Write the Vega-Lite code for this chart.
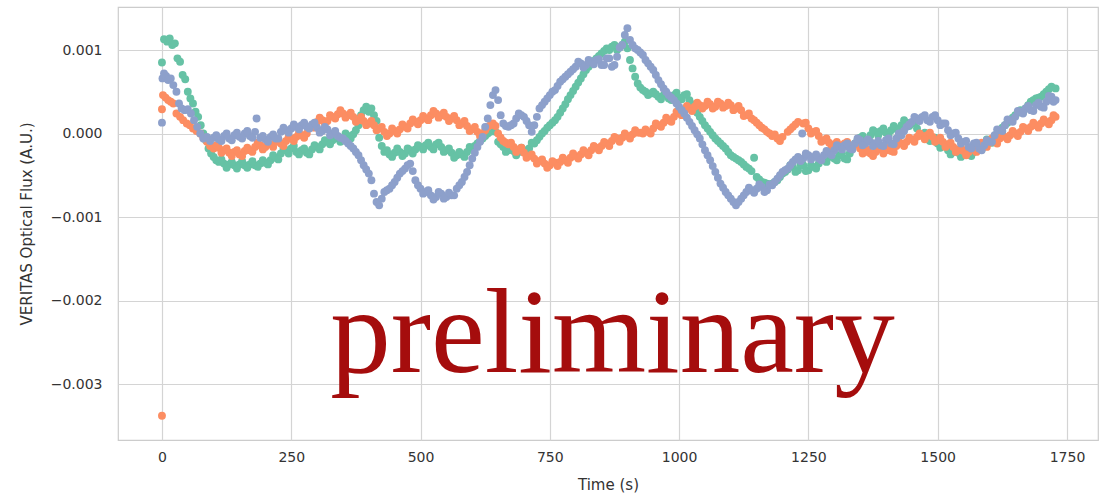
{
  "$schema": "https://vega.github.io/schema/vega-lite/v6.json",
  "width": 980,
  "height": 433,
  "autosize": {"type": "none"},
  "padding": {"left": 118, "top": 7, "right": 10, "bottom": 58},
  "background": "white",
  "config": {
    "view": {"stroke": "#cccccc", "strokeWidth": 1.2},
    "axis": {
      "domain": false,
      "ticks": false,
      "grid": true,
      "gridColor": "#d4d4d4",
      "gridWidth": 1.2,
      "labelFont": "DejaVu Sans",
      "labelFontSize": 14,
      "labelColor": "#333333",
      "titleFont": "DejaVu Sans",
      "titleFontSize": 15,
      "titleFontWeight": "normal",
      "titleColor": "#333333"
    }
  },
  "layer": [
    {
      "data": {
        "values": [
          {"s":"A","t":0,"f":0.00085},{"s":"A","t":4,"f":0.00113},{"s":"A","t":10,"f":0.00110},{"s":"A","t":15,"f":0.00114},{"s":"A","t":20,"f":0.00106},{"s":"A","t":25,"f":0.00108},{"s":"A","t":30,"f":0.00090},{"s":"A","t":35,"f":0.00086},{"s":"A","t":40,"f":0.00070},{"s":"A","t":45,"f":0.00065},{"s":"A","t":50,"f":0.00050},{"s":"A","t":55,"f":0.00042},{"s":"A","t":60,"f":0.00036},{"s":"A","t":65,"f":0.00026},{"s":"A","t":70,"f":0.00020},{"s":"A","t":75,"f":0.00010},{"s":"A","t":80,"f":0.0},{"s":"A","t":85,"f":-0.00008},{"s":"A","t":90,"f":-0.00018},{"s":"A","t":95,"f":-0.00024},{"s":"A","t":100,"f":-0.00028},{"s":"A","t":105,"f":-0.00032},{"s":"A","t":110,"f":-0.00034},{"s":"A","t":120,"f":-0.00036},{"s":"A","t":130,"f":-0.00037},{"s":"A","t":140,"f":-0.00038},{"s":"A","t":150,"f":-0.00037},{"s":"A","t":160,"f":-0.00038},{"s":"A","t":170,"f":-0.00037},{"s":"A","t":180,"f":-0.00038},{"s":"A","t":190,"f":-0.00036},{"s":"A","t":200,"f":-0.00035},{"s":"A","t":210,"f":-0.00032},{"s":"A","t":220,"f":-0.00029},{"s":"A","t":230,"f":-0.00024},{"s":"A","t":240,"f":-0.00020},{"s":"A","t":250,"f":-0.00018},{"s":"A","t":260,"f":-0.00022},{"s":"A","t":270,"f":-0.00020},{"s":"A","t":280,"f":-0.00023},{"s":"A","t":290,"f":-0.00019},{"s":"A","t":300,"f":-0.00016},{"s":"A","t":310,"f":-0.00013},{"s":"A","t":320,"f":-0.00010},{"s":"A","t":330,"f":-0.00008},{"s":"A","t":340,"f":-0.00006},{"s":"A","t":350,"f":-0.00005},{"s":"A","t":360,"f":-0.00003},{"s":"A","t":370,"f":-0.00001},{"s":"A","t":380,"f":0.00010},{"s":"A","t":385,"f":0.00022},{"s":"A","t":390,"f":0.00028},{"s":"A","t":395,"f":0.00032},{"s":"A","t":400,"f":0.00026},{"s":"A","t":405,"f":0.00030},{"s":"A","t":410,"f":0.00022},{"s":"A","t":415,"f":0.00015},{"s":"A","t":420,"f":-0.00005},{"s":"A","t":425,"f":-0.00015},{"s":"A","t":430,"f":-0.00022},{"s":"A","t":440,"f":-0.00025},{"s":"A","t":450,"f":-0.00023},{"s":"A","t":460,"f":-0.00022},{"s":"A","t":470,"f":-0.00024},{"s":"A","t":480,"f":-0.00020},{"s":"A","t":490,"f":-0.00019},{"s":"A","t":500,"f":-0.00016},{"s":"A","t":510,"f":-0.00014},{"s":"A","t":520,"f":-0.00016},{"s":"A","t":530,"f":-0.00013},{"s":"A","t":540,"f":-0.00016},{"s":"A","t":550,"f":-0.00020},{"s":"A","t":560,"f":-0.00023},{"s":"A","t":570,"f":-0.00026},{"s":"A","t":580,"f":-0.00025},{"s":"A","t":590,"f":-0.00022},{"s":"A","t":600,"f":-0.00018},{"s":"A","t":610,"f":-0.00012},{"s":"A","t":620,"f":-0.00006},{"s":"A","t":630,"f":0.0},{"s":"A","t":640,"f":0.00004},{"s":"A","t":645,"f":0.00002},{"s":"A","t":650,"f":-0.00010},{"s":"A","t":660,"f":-0.00016},{"s":"A","t":670,"f":-0.00020},{"s":"A","t":680,"f":-0.00021},{"s":"A","t":690,"f":-0.00022},{"s":"A","t":700,"f":-0.00020},{"s":"A","t":710,"f":-0.00018},{"s":"A","t":720,"f":-0.00012},{"s":"A","t":730,"f":-0.00004},{"s":"A","t":740,"f":0.00003},{"s":"A","t":750,"f":0.00010},{"s":"A","t":760,"f":0.00016},{"s":"A","t":770,"f":0.00025},{"s":"A","t":780,"f":0.00035},{"s":"A","t":790,"f":0.00046},{"s":"A","t":800,"f":0.00056},{"s":"A","t":810,"f":0.00066},{"s":"A","t":820,"f":0.00076},{"s":"A","t":830,"f":0.00084},{"s":"A","t":840,"f":0.00090},{"s":"A","t":850,"f":0.00096},{"s":"A","t":860,"f":0.00102},{"s":"A","t":870,"f":0.00104},{"s":"A","t":880,"f":0.00100},{"s":"A","t":890,"f":0.00106},{"s":"A","t":895,"f":0.00110},{"s":"A","t":900,"f":0.00102},{"s":"A","t":905,"f":0.00088},{"s":"A","t":910,"f":0.00078},{"s":"A","t":915,"f":0.00068},{"s":"A","t":920,"f":0.00060},{"s":"A","t":930,"f":0.00052},{"s":"A","t":940,"f":0.00046},{"s":"A","t":950,"f":0.00050},{"s":"A","t":960,"f":0.00044},{"s":"A","t":970,"f":0.00046},{"s":"A","t":980,"f":0.00042},{"s":"A","t":990,"f":0.00046},{"s":"A","t":1000,"f":0.00043},{"s":"A","t":1010,"f":0.00046},{"s":"A","t":1020,"f":0.00040},{"s":"A","t":1030,"f":0.00030},{"s":"A","t":1040,"f":0.00020},{"s":"A","t":1050,"f":0.00010},{"s":"A","t":1060,"f":0.00002},{"s":"A","t":1070,"f":-0.00006},{"s":"A","t":1080,"f":-0.00012},{"s":"A","t":1090,"f":-0.00018},{"s":"A","t":1100,"f":-0.00026},{"s":"A","t":1110,"f":-0.00030},{"s":"A","t":1120,"f":-0.00034},{"s":"A","t":1130,"f":-0.00040},{"s":"A","t":1140,"f":-0.00045},{"s":"A","t":1145,"f":-0.00029},{"s":"A","t":1150,"f":-0.00052},{"s":"A","t":1160,"f":-0.00058},{"s":"A","t":1170,"f":-0.00060},{"s":"A","t":1180,"f":-0.00060},{"s":"A","t":1190,"f":-0.00056},{"s":"A","t":1200,"f":-0.00048},{"s":"A","t":1210,"f":-0.00043},{"s":"A","t":1220,"f":-0.00040},{"s":"A","t":1230,"f":-0.00044},{"s":"A","t":1240,"f":-0.00038},{"s":"A","t":1250,"f":-0.00044},{"s":"A","t":1260,"f":-0.00040},{"s":"A","t":1270,"f":-0.00036},{"s":"A","t":1280,"f":-0.00032},{"s":"A","t":1290,"f":-0.00028},{"s":"A","t":1300,"f":-0.00030},{"s":"A","t":1310,"f":-0.00026},{"s":"A","t":1320,"f":-0.00030},{"s":"A","t":1330,"f":-0.00024},{"s":"A","t":1340,"f":-0.00012},{"s":"A","t":1350,"f":-0.00005},{"s":"A","t":1360,"f":-0.00008},{"s":"A","t":1370,"f":-0.00002},{"s":"A","t":1380,"f":0.00002},{"s":"A","t":1390,"f":0.00003},{"s":"A","t":1400,"f":0.00001},{"s":"A","t":1410,"f":0.00004},{"s":"A","t":1420,"f":0.00006},{"s":"A","t":1430,"f":0.00010},{"s":"A","t":1440,"f":0.00013},{"s":"A","t":1450,"f":0.00012},{"s":"A","t":1460,"f":0.00006},{"s":"A","t":1470,"f":-0.00002},{"s":"A","t":1480,"f":-0.00004},{"s":"A","t":1490,"f":-0.00006},{"s":"A","t":1500,"f":-0.00012},{"s":"A","t":1510,"f":-0.00014},{"s":"A","t":1520,"f":-0.00020},{"s":"A","t":1530,"f":-0.00022},{"s":"A","t":1540,"f":-0.00023},{"s":"A","t":1550,"f":-0.00025},{"s":"A","t":1560,"f":-0.00023},{"s":"A","t":1570,"f":-0.00022},{"s":"A","t":1580,"f":-0.00018},{"s":"A","t":1590,"f":-0.00012},{"s":"A","t":1600,"f":-0.00010},{"s":"A","t":1610,"f":-0.00004},{"s":"A","t":1620,"f":0.00004},{"s":"A","t":1630,"f":0.00010},{"s":"A","t":1640,"f":0.00016},{"s":"A","t":1650,"f":0.00022},{"s":"A","t":1660,"f":0.00028},{"s":"A","t":1670,"f":0.00030},{"s":"A","t":1680,"f":0.00038},{"s":"A","t":1690,"f":0.00042},{"s":"A","t":1700,"f":0.00044},{"s":"A","t":1710,"f":0.00050},{"s":"A","t":1720,"f":0.00056},{"s":"A","t":1728,"f":0.00054},
          {"s":"A","t":375,"f":0.00004},{"s":"A","t":605,"f":-0.00015},{"s":"A","t":615,"f":-0.00009},{"s":"A","t":625,"f":-0.00003},{"s":"A","t":635,"f":0.00002},{"s":"A","t":655,"f":-0.00013},{"s":"A","t":725,"f":-0.00008},{"s":"A","t":735,"f":0.0},{"s":"A","t":745,"f":0.00007},{"s":"A","t":755,"f":0.00013},{"s":"A","t":765,"f":0.00020},{"s":"A","t":775,"f":0.00030},{"s":"A","t":785,"f":0.00041},{"s":"A","t":795,"f":0.00051},{"s":"A","t":805,"f":0.00061},{"s":"A","t":815,"f":0.00071},{"s":"A","t":825,"f":0.00080},{"s":"A","t":835,"f":0.00087},{"s":"A","t":845,"f":0.00093},{"s":"A","t":855,"f":0.00099},{"s":"A","t":865,"f":0.00100},{"s":"A","t":875,"f":0.00106},{"s":"A","t":885,"f":0.00103},{"s":"A","t":925,"f":0.00055},{"s":"A","t":935,"f":0.00050},{"s":"A","t":945,"f":0.00048},{"s":"A","t":955,"f":0.00047},{"s":"A","t":1025,"f":0.00035},{"s":"A","t":1035,"f":0.00025},{"s":"A","t":1045,"f":0.00015},{"s":"A","t":1055,"f":0.00006},{"s":"A","t":1065,"f":-0.00002},{"s":"A","t":1075,"f":-0.00009},{"s":"A","t":1085,"f":-0.00015},{"s":"A","t":1095,"f":-0.00022},{"s":"A","t":1105,"f":-0.00028},{"s":"A","t":1115,"f":-0.00032},{"s":"A","t":1125,"f":-0.00037},{"s":"A","t":1135,"f":-0.00042},{"s":"A","t":1155,"f":-0.00055},{"s":"A","t":1165,"f":-0.00059},{"s":"A","t":1175,"f":-0.00061},{"s":"A","t":1185,"f":-0.00058},{"s":"A","t":1195,"f":-0.00052},{"s":"A","t":1205,"f":-0.00046},{"s":"A","t":1335,"f":-0.00018},{"s":"A","t":1345,"f":-0.00008},{"s":"A","t":1615,"f":0.0},{"s":"A","t":1625,"f":0.00007},{"s":"A","t":1635,"f":0.00013},{"s":"A","t":1645,"f":0.00019},{"s":"A","t":1655,"f":0.00025},{"s":"A","t":1675,"f":0.00034},{"s":"A","t":1685,"f":0.00040},{"s":"A","t":1695,"f":0.00043},{"s":"A","t":1705,"f":0.00047},{"s":"A","t":1715,"f":0.00053},
          {"s":"A","t":115,"f":-0.00031},{"s":"A","t":125,"f":-0.00041},{"s":"A","t":135,"f":-0.00034},{"s":"A","t":145,"f":-0.00042},{"s":"A","t":155,"f":-0.00033},{"s":"A","t":165,"f":-0.00041},{"s":"A","t":175,"f":-0.00033},{"s":"A","t":185,"f":-0.00040},{"s":"A","t":195,"f":-0.00032},{"s":"A","t":205,"f":-0.00037},{"s":"A","t":215,"f":-0.00026},{"s":"A","t":225,"f":-0.00031},{"s":"A","t":235,"f":-0.00018},{"s":"A","t":245,"f":-0.00024},{"s":"A","t":255,"f":-0.00015},{"s":"A","t":265,"f":-0.00025},{"s":"A","t":275,"f":-0.00018},{"s":"A","t":285,"f":-0.00025},{"s":"A","t":295,"f":-0.00014},{"s":"A","t":305,"f":-0.00019},{"s":"A","t":315,"f":-0.00008},{"s":"A","t":325,"f":-0.00013},{"s":"A","t":335,"f":-0.00003},{"s":"A","t":345,"f":-0.00010},{"s":"A","t":355,"f":0.0},{"s":"A","t":365,"f":-0.00006},{"s":"A","t":435,"f":-0.00020},{"s":"A","t":445,"f":-0.00028},{"s":"A","t":455,"f":-0.00018},{"s":"A","t":465,"f":-0.00027},{"s":"A","t":475,"f":-0.00018},{"s":"A","t":485,"f":-0.00024},{"s":"A","t":495,"f":-0.00014},{"s":"A","t":505,"f":-0.00019},{"s":"A","t":515,"f":-0.00011},{"s":"A","t":525,"f":-0.00019},{"s":"A","t":535,"f":-0.00011},{"s":"A","t":545,"f":-0.00022},{"s":"A","t":555,"f":-0.00018},{"s":"A","t":565,"f":-0.00029},{"s":"A","t":575,"f":-0.00022},{"s":"A","t":585,"f":-0.00028},{"s":"A","t":595,"f":-0.00016},{"s":"A","t":665,"f":-0.00022},{"s":"A","t":675,"f":-0.00017},{"s":"A","t":685,"f":-0.00026},{"s":"A","t":695,"f":-0.00017},{"s":"A","t":705,"f":-0.00023},{"s":"A","t":715,"f":-0.00011},{"s":"A","t":965,"f":0.00041},{"s":"A","t":975,"f":0.00048},{"s":"A","t":985,"f":0.00040},{"s":"A","t":995,"f":0.00049},{"s":"A","t":1005,"f":0.00041},{"s":"A","t":1015,"f":0.00047},{"s":"A","t":1215,"f":-0.00038},{"s":"A","t":1225,"f":-0.00046},{"s":"A","t":1235,"f":-0.00037},{"s":"A","t":1245,"f":-0.00045},{"s":"A","t":1255,"f":-0.00038},{"s":"A","t":1265,"f":-0.00042},{"s":"A","t":1275,"f":-0.00030},{"s":"A","t":1285,"f":-0.00034},{"s":"A","t":1295,"f":-0.00025},{"s":"A","t":1305,"f":-0.00032},{"s":"A","t":1315,"f":-0.00024},{"s":"A","t":1325,"f":-0.00031},{"s":"A","t":1355,"f":-0.00003},{"s":"A","t":1365,"f":-0.00009},{"s":"A","t":1375,"f":0.00004},{"s":"A","t":1385,"f":-0.00002},{"s":"A","t":1395,"f":0.00006},{"s":"A","t":1405,"f":-0.00002},{"s":"A","t":1415,"f":0.00009},{"s":"A","t":1425,"f":0.00004},{"s":"A","t":1435,"f":0.00016},{"s":"A","t":1445,"f":0.00009},{"s":"A","t":1455,"f":0.00013},{"s":"A","t":1465,"f":-0.00002},{"s":"A","t":1475,"f":0.00001},{"s":"A","t":1485,"f":-0.00009},{"s":"A","t":1495,"f":-0.00005},{"s":"A","t":1505,"f":-0.00017},{"s":"A","t":1515,"f":-0.00013},{"s":"A","t":1525,"f":-0.00025},{"s":"A","t":1535,"f":-0.00019},{"s":"A","t":1545,"f":-0.00028},{"s":"A","t":1555,"f":-0.00020},{"s":"A","t":1565,"f":-0.00027},{"s":"A","t":1575,"f":-0.00016},{"s":"A","t":1585,"f":-0.00019},{"s":"A","t":1595,"f":-0.00007},{"s":"A","t":1605,"f":-0.00011},{"s":"A","t":1665,"f":0.00025},

          {"s":"B","t":0,"f":-0.00338},{"s":"B","t":0,"f":0.00029},{"s":"B","t":2,"f":0.00046},{"s":"B","t":7,"f":0.00043},{"s":"B","t":12,"f":0.00040},{"s":"B","t":17,"f":0.00038},{"s":"B","t":22,"f":0.00036},{"s":"B","t":28,"f":0.00024},{"s":"B","t":35,"f":0.00020},{"s":"B","t":41,"f":0.00016},{"s":"B","t":48,"f":0.00012},{"s":"B","t":54,"f":0.00010},{"s":"B","t":60,"f":0.00006},{"s":"B","t":67,"f":0.00003},{"s":"B","t":74,"f":0.0},{"s":"B","t":80,"f":-0.00005},{"s":"B","t":87,"f":-0.00010},{"s":"B","t":93,"f":-0.00015},{"s":"B","t":100,"f":-0.00018},{"s":"B","t":110,"f":-0.00017},{"s":"B","t":120,"f":-0.00020},{"s":"B","t":130,"f":-0.00023},{"s":"B","t":140,"f":-0.00022},{"s":"B","t":150,"f":-0.00025},{"s":"B","t":160,"f":-0.00021},{"s":"B","t":170,"f":-0.00020},{"s":"B","t":180,"f":-0.00016},{"s":"B","t":190,"f":-0.00014},{"s":"B","t":200,"f":-0.00016},{"s":"B","t":210,"f":-0.00013},{"s":"B","t":220,"f":-0.00010},{"s":"B","t":230,"f":-0.00012},{"s":"B","t":240,"f":-0.00009},{"s":"B","t":250,"f":-0.00006},{"s":"B","t":260,"f":-0.00004},{"s":"B","t":270,"f":-0.00002},{"s":"B","t":280,"f":0.0},{"s":"B","t":290,"f":0.00008},{"s":"B","t":300,"f":0.00014},{"s":"B","t":310,"f":0.00016},{"s":"B","t":320,"f":0.00015},{"s":"B","t":330,"f":0.00020},{"s":"B","t":340,"f":0.00023},{"s":"B","t":350,"f":0.00024},{"s":"B","t":360,"f":0.00022},{"s":"B","t":370,"f":0.00020},{"s":"B","t":380,"f":0.00016},{"s":"B","t":390,"f":0.00015},{"s":"B","t":400,"f":0.00012},{"s":"B","t":410,"f":0.00010},{"s":"B","t":420,"f":0.00006},{"s":"B","t":430,"f":0.00002},{"s":"B","t":440,"f":0.0},{"s":"B","t":450,"f":0.00003},{"s":"B","t":460,"f":0.00005},{"s":"B","t":470,"f":0.00008},{"s":"B","t":480,"f":0.00012},{"s":"B","t":490,"f":0.00014},{"s":"B","t":500,"f":0.00016},{"s":"B","t":510,"f":0.00018},{"s":"B","t":520,"f":0.00022},{"s":"B","t":530,"f":0.00024},{"s":"B","t":540,"f":0.00022},{"s":"B","t":550,"f":0.00020},{"s":"B","t":560,"f":0.00018},{"s":"B","t":570,"f":0.00016},{"s":"B","t":580,"f":0.00012},{"s":"B","t":590,"f":0.00009},{"s":"B","t":600,"f":0.00005},{"s":"B","t":610,"f":0.00002},{"s":"B","t":620,"f":0.0},{"s":"B","t":630,"f":0.00008},{"s":"B","t":640,"f":0.00012},{"s":"B","t":645,"f":0.00009},{"s":"B","t":650,"f":0.0},{"s":"B","t":660,"f":-0.00009},{"s":"B","t":670,"f":-0.00013},{"s":"B","t":680,"f":-0.00016},{"s":"B","t":690,"f":-0.00019},{"s":"B","t":700,"f":-0.00023},{"s":"B","t":710,"f":-0.00027},{"s":"B","t":720,"f":-0.00030},{"s":"B","t":730,"f":-0.00033},{"s":"B","t":740,"f":-0.00036},{"s":"B","t":750,"f":-0.00038},{"s":"B","t":760,"f":-0.00035},{"s":"B","t":770,"f":-0.00034},{"s":"B","t":780,"f":-0.00032},{"s":"B","t":790,"f":-0.00029},{"s":"B","t":800,"f":-0.00027},{"s":"B","t":810,"f":-0.00025},{"s":"B","t":820,"f":-0.00023},{"s":"B","t":830,"f":-0.00020},{"s":"B","t":840,"f":-0.00017},{"s":"B","t":850,"f":-0.00015},{"s":"B","t":860,"f":-0.00012},{"s":"B","t":870,"f":-0.00009},{"s":"B","t":880,"f":-0.00006},{"s":"B","t":890,"f":-0.00005},{"s":"B","t":900,"f":-0.00003},{"s":"B","t":910,"f":-0.00001},{"s":"B","t":920,"f":0.00001},{"s":"B","t":930,"f":0.0},{"s":"B","t":940,"f":0.00002},{"s":"B","t":950,"f":0.00006},{"s":"B","t":960,"f":0.00010},{"s":"B","t":970,"f":0.00013},{"s":"B","t":980,"f":0.00016},{"s":"B","t":990,"f":0.00020},{"s":"B","t":1000,"f":0.00024},{"s":"B","t":1010,"f":0.00028},{"s":"B","t":1020,"f":0.00030},{"s":"B","t":1030,"f":0.00032},{"s":"B","t":1040,"f":0.00034},{"s":"B","t":1050,"f":0.00033},{"s":"B","t":1060,"f":0.00035},{"s":"B","t":1070,"f":0.00032},{"s":"B","t":1080,"f":0.00036},{"s":"B","t":1090,"f":0.00033},{"s":"B","t":1100,"f":0.00034},{"s":"B","t":1110,"f":0.00030},{"s":"B","t":1120,"f":0.00028},{"s":"B","t":1130,"f":0.00022},{"s":"B","t":1140,"f":0.00018},{"s":"B","t":1150,"f":0.00013},{"s":"B","t":1160,"f":0.00007},{"s":"B","t":1170,"f":0.00002},{"s":"B","t":1180,"f":-0.00003},{"s":"B","t":1190,"f":-0.00006},{"s":"B","t":1200,"f":-0.00004},{"s":"B","t":1210,"f":0.00002},{"s":"B","t":1220,"f":0.00008},{"s":"B","t":1230,"f":0.00014},{"s":"B","t":1240,"f":0.00012},{"s":"B","t":1250,"f":0.00006},{"s":"B","t":1260,"f":0.00002},{"s":"B","t":1270,"f":-0.00003},{"s":"B","t":1280,"f":-0.00008},{"s":"B","t":1290,"f":-0.00011},{"s":"B","t":1300,"f":-0.00013},{"s":"B","t":1310,"f":-0.00014},{"s":"B","t":1320,"f":-0.00012},{"s":"B","t":1330,"f":-0.00015},{"s":"B","t":1340,"f":-0.00013},{"s":"B","t":1350,"f":-0.00018},{"s":"B","t":1360,"f":-0.00022},{"s":"B","t":1370,"f":-0.00024},{"s":"B","t":1380,"f":-0.00022},{"s":"B","t":1390,"f":-0.00019},{"s":"B","t":1400,"f":-0.00020},{"s":"B","t":1410,"f":-0.00021},{"s":"B","t":1420,"f":-0.00015},{"s":"B","t":1430,"f":-0.00012},{"s":"B","t":1440,"f":-0.00010},{"s":"B","t":1450,"f":-0.00007},{"s":"B","t":1460,"f":-0.00004},{"s":"B","t":1470,"f":-0.00003},{"s":"B","t":1480,"f":-0.00002},{"s":"B","t":1490,"f":-0.00004},{"s":"B","t":1500,"f":-0.00008},{"s":"B","t":1510,"f":-0.00010},{"s":"B","t":1520,"f":-0.00013},{"s":"B","t":1530,"f":-0.00016},{"s":"B","t":1540,"f":-0.00020},{"s":"B","t":1550,"f":-0.00021},{"s":"B","t":1560,"f":-0.00022},{"s":"B","t":1570,"f":-0.00019},{"s":"B","t":1580,"f":-0.00016},{"s":"B","t":1590,"f":-0.00013},{"s":"B","t":1600,"f":-0.00011},{"s":"B","t":1610,"f":-0.00009},{"s":"B","t":1620,"f":-0.00006},{"s":"B","t":1630,"f":-0.00004},{"s":"B","t":1640,"f":-0.00002},{"s":"B","t":1650,"f":0.0},{"s":"B","t":1660,"f":0.00002},{"s":"B","t":1670,"f":0.00006},{"s":"B","t":1680,"f":0.00008},{"s":"B","t":1690,"f":0.00010},{"s":"B","t":1700,"f":0.00012},{"s":"B","t":1710,"f":0.00014},{"s":"B","t":1720,"f":0.00016},{"s":"B","t":1728,"f":0.00020},
          {"s":"B","t":625,"f":0.00004},{"s":"B","t":635,"f":0.00010},{"s":"B","t":655,"f":-0.00005},{"s":"B","t":665,"f":-0.00011},{"s":"B","t":1145,"f":0.00016},{"s":"B","t":1155,"f":0.00010},{"s":"B","t":1165,"f":0.00005},{"s":"B","t":1175,"f":0.0},{"s":"B","t":1215,"f":0.00005},{"s":"B","t":1225,"f":0.00011},
          {"s":"B","t":105,"f":-0.00014},{"s":"B","t":115,"f":-0.00023},{"s":"B","t":125,"f":-0.00018},{"s":"B","t":135,"f":-0.00027},{"s":"B","t":145,"f":-0.00020},{"s":"B","t":155,"f":-0.00027},{"s":"B","t":165,"f":-0.00017},{"s":"B","t":175,"f":-0.00022},{"s":"B","t":185,"f":-0.00011},{"s":"B","t":195,"f":-0.00019},{"s":"B","t":205,"f":-0.00011},{"s":"B","t":215,"f":-0.00016},{"s":"B","t":225,"f":-0.00007},{"s":"B","t":235,"f":-0.00015},{"s":"B","t":245,"f":-0.00004},{"s":"B","t":255,"f":-0.00009},{"s":"B","t":265,"f":0.00001},{"s":"B","t":275,"f":-0.00005},{"s":"B","t":285,"f":0.00008},{"s":"B","t":295,"f":0.00007},{"s":"B","t":305,"f":0.00019},{"s":"B","t":315,"f":0.00012},{"s":"B","t":325,"f":0.00022},{"s":"B","t":335,"f":0.00018},{"s":"B","t":345,"f":0.00028},{"s":"B","t":355,"f":0.00019},{"s":"B","t":365,"f":0.00025},{"s":"B","t":375,"f":0.00014},{"s":"B","t":385,"f":0.00020},{"s":"B","t":395,"f":0.00010},{"s":"B","t":405,"f":0.00015},{"s":"B","t":415,"f":0.00004},{"s":"B","t":425,"f":0.00008},{"s":"B","t":435,"f":-0.00003},{"s":"B","t":445,"f":0.00006},{"s":"B","t":455,"f":0.0},{"s":"B","t":465,"f":0.00011},{"s":"B","t":475,"f":0.00006},{"s":"B","t":485,"f":0.00017},{"s":"B","t":495,"f":0.00011},{"s":"B","t":505,"f":0.00021},{"s":"B","t":515,"f":0.00016},{"s":"B","t":525,"f":0.00027},{"s":"B","t":535,"f":0.00019},{"s":"B","t":545,"f":0.00025},{"s":"B","t":555,"f":0.00015},{"s":"B","t":565,"f":0.00021},{"s":"B","t":575,"f":0.00010},{"s":"B","t":585,"f":0.00015},{"s":"B","t":595,"f":0.00003},{"s":"B","t":605,"f":0.00008},{"s":"B","t":615,"f":-0.00003},{"s":"B","t":675,"f":-0.00011},{"s":"B","t":685,"f":-0.00022},{"s":"B","t":695,"f":-0.00017},{"s":"B","t":705,"f":-0.00029},{"s":"B","t":715,"f":-0.00025},{"s":"B","t":725,"f":-0.00036},{"s":"B","t":735,"f":-0.00031},{"s":"B","t":745,"f":-0.00041},{"s":"B","t":755,"f":-0.00033},{"s":"B","t":765,"f":-0.00039},{"s":"B","t":775,"f":-0.00029},{"s":"B","t":785,"f":-0.00035},{"s":"B","t":795,"f":-0.00024},{"s":"B","t":805,"f":-0.00030},{"s":"B","t":815,"f":-0.00020},{"s":"B","t":825,"f":-0.00026},{"s":"B","t":835,"f":-0.00015},{"s":"B","t":845,"f":-0.00020},{"s":"B","t":855,"f":-0.00010},{"s":"B","t":865,"f":-0.00015},{"s":"B","t":875,"f":-0.00004},{"s":"B","t":885,"f":-0.00010},{"s":"B","t":895,"f":0.0},{"s":"B","t":905,"f":-0.00006},{"s":"B","t":915,"f":0.00004},{"s":"B","t":925,"f":0.00001},{"s":"B","t":935,"f":0.00005},{"s":"B","t":945,"f":0.0},{"s":"B","t":955,"f":0.00012},{"s":"B","t":965,"f":0.00008},{"s":"B","t":975,"f":0.00019},{"s":"B","t":985,"f":0.00014},{"s":"B","t":995,"f":0.00026},{"s":"B","t":1005,"f":0.00022},{"s":"B","t":1015,"f":0.00033},{"s":"B","t":1025,"f":0.00027},{"s":"B","t":1035,"f":0.00037},{"s":"B","t":1045,"f":0.00030},{"s":"B","t":1055,"f":0.00038},{"s":"B","t":1065,"f":0.00030},{"s":"B","t":1075,"f":0.00038},{"s":"B","t":1085,"f":0.00031},{"s":"B","t":1095,"f":0.00037},{"s":"B","t":1105,"f":0.00028},{"s":"B","t":1115,"f":0.00033},{"s":"B","t":1125,"f":0.00021},{"s":"B","t":1135,"f":0.00024},{"s":"B","t":1185,"f":-0.00001},{"s":"B","t":1195,"f":-0.00009},{"s":"B","t":1245,"f":0.00013},{"s":"B","t":1255,"f":0.0},{"s":"B","t":1265,"f":0.00003},{"s":"B","t":1275,"f":-0.00010},{"s":"B","t":1285,"f":-0.00006},{"s":"B","t":1295,"f":-0.00016},{"s":"B","t":1305,"f":-0.00010},{"s":"B","t":1315,"f":-0.00017},{"s":"B","t":1325,"f":-0.00010},{"s":"B","t":1335,"f":-0.00018},{"s":"B","t":1345,"f":-0.00012},{"s":"B","t":1355,"f":-0.00024},{"s":"B","t":1365,"f":-0.00019},{"s":"B","t":1375,"f":-0.00027},{"s":"B","t":1385,"f":-0.00017},{"s":"B","t":1395,"f":-0.00024},{"s":"B","t":1405,"f":-0.00017},{"s":"B","t":1415,"f":-0.00022},{"s":"B","t":1425,"f":-0.00010},{"s":"B","t":1435,"f":-0.00015},{"s":"B","t":1445,"f":-0.00005},{"s":"B","t":1455,"f":-0.00010},{"s":"B","t":1465,"f":0.0},{"s":"B","t":1475,"f":-0.00007},{"s":"B","t":1485,"f":0.00001},{"s":"B","t":1495,"f":-0.00010},{"s":"B","t":1505,"f":-0.00005},{"s":"B","t":1515,"f":-0.00016},{"s":"B","t":1525,"f":-0.00011},{"s":"B","t":1535,"f":-0.00022},{"s":"B","t":1545,"f":-0.00017},{"s":"B","t":1555,"f":-0.00026},{"s":"B","t":1565,"f":-0.00017},{"s":"B","t":1575,"f":-0.00022},{"s":"B","t":1585,"f":-0.00011},{"s":"B","t":1595,"f":-0.00016},{"s":"B","t":1605,"f":-0.00006},{"s":"B","t":1615,"f":-0.00012},{"s":"B","t":1625,"f":-0.00001},{"s":"B","t":1635,"f":-0.00007},{"s":"B","t":1645,"f":0.00003},{"s":"B","t":1655,"f":-0.00003},{"s":"B","t":1665,"f":0.00008},{"s":"B","t":1675,"f":0.00003},{"s":"B","t":1685,"f":0.00013},{"s":"B","t":1695,"f":0.00007},{"s":"B","t":1705,"f":0.00017},{"s":"B","t":1715,"f":0.00011},{"s":"B","t":1724,"f":0.00022},

          {"s":"C","t":0,"f":0.00013},{"s":"C","t":1,"f":0.00066},{"s":"C","t":4,"f":0.00072},{"s":"C","t":8,"f":0.00069},{"s":"C","t":12,"f":0.00064},{"s":"C","t":17,"f":0.00066},{"s":"C","t":22,"f":0.00058},{"s":"C","t":28,"f":0.00050},{"s":"C","t":33,"f":0.00036},{"s":"C","t":38,"f":0.00030},{"s":"C","t":44,"f":0.00028},{"s":"C","t":50,"f":0.00029},{"s":"C","t":56,"f":0.00024},{"s":"C","t":62,"f":0.00016},{"s":"C","t":68,"f":0.00008},{"s":"C","t":74,"f":0.0},{"s":"C","t":80,"f":-0.00006},{"s":"C","t":87,"f":-0.00004},{"s":"C","t":93,"f":-0.00009},{"s":"C","t":100,"f":-0.00005},{"s":"C","t":110,"f":-0.00007},{"s":"C","t":120,"f":-0.00003},{"s":"C","t":130,"f":-0.00006},{"s":"C","t":140,"f":-0.00002},{"s":"C","t":150,"f":-0.00004},{"s":"C","t":160,"f":0.0},{"s":"C","t":170,"f":-0.00003},{"s":"C","t":180,"f":0.00002},{"s":"C","t":183,"f":0.00018},{"s":"C","t":190,"f":-0.00005},{"s":"C","t":200,"f":-0.00007},{"s":"C","t":210,"f":-0.00004},{"s":"C","t":220,"f":-0.00006},{"s":"C","t":230,"f":0.00002},{"s":"C","t":240,"f":0.00004},{"s":"C","t":250,"f":0.00006},{"s":"C","t":260,"f":0.00008},{"s":"C","t":270,"f":0.00010},{"s":"C","t":280,"f":0.00008},{"s":"C","t":290,"f":0.00011},{"s":"C","t":300,"f":0.00007},{"s":"C","t":310,"f":0.00003},{"s":"C","t":320,"f":0.00005},{"s":"C","t":330,"f":0.0},{"s":"C","t":340,"f":-0.00003},{"s":"C","t":350,"f":-0.00006},{"s":"C","t":360,"f":-0.00012},{"s":"C","t":370,"f":-0.00018},{"s":"C","t":380,"f":-0.00026},{"s":"C","t":390,"f":-0.00038},{"s":"C","t":400,"f":-0.00048},{"s":"C","t":405,"f":-0.00056},{"s":"C","t":410,"f":-0.00072},{"s":"C","t":415,"f":-0.00082},{"s":"C","t":420,"f":-0.00086},{"s":"C","t":425,"f":-0.00078},{"s":"C","t":430,"f":-0.00070},{"s":"C","t":440,"f":-0.00066},{"s":"C","t":450,"f":-0.00058},{"s":"C","t":460,"f":-0.00048},{"s":"C","t":470,"f":-0.00042},{"s":"C","t":480,"f":-0.00036},{"s":"C","t":490,"f":-0.00056},{"s":"C","t":500,"f":-0.00066},{"s":"C","t":510,"f":-0.00070},{"s":"C","t":520,"f":-0.00074},{"s":"C","t":530,"f":-0.00076},{"s":"C","t":540,"f":-0.00072},{"s":"C","t":550,"f":-0.00076},{"s":"C","t":560,"f":-0.00074},{"s":"C","t":570,"f":-0.00066},{"s":"C","t":580,"f":-0.00058},{"s":"C","t":590,"f":-0.00046},{"s":"C","t":600,"f":-0.00030},{"s":"C","t":610,"f":-0.00016},{"s":"C","t":620,"f":-0.00004},{"s":"C","t":630,"f":0.00018},{"s":"C","t":635,"f":0.00034},{"s":"C","t":640,"f":0.00046},{"s":"C","t":645,"f":0.00052},{"s":"C","t":650,"f":0.00040},{"s":"C","t":655,"f":0.00022},{"s":"C","t":660,"f":0.00012},{"s":"C","t":670,"f":0.00008},{"s":"C","t":680,"f":0.00012},{"s":"C","t":690,"f":0.00024},{"s":"C","t":700,"f":0.00020},{"s":"C","t":710,"f":0.00010},{"s":"C","t":715,"f":0.00002},{"s":"C","t":720,"f":0.00010},{"s":"C","t":730,"f":0.00030},{"s":"C","t":740,"f":0.00038},{"s":"C","t":750,"f":0.00046},{"s":"C","t":760,"f":0.00052},{"s":"C","t":770,"f":0.00062},{"s":"C","t":780,"f":0.00068},{"s":"C","t":790,"f":0.00074},{"s":"C","t":800,"f":0.00080},{"s":"C","t":810,"f":0.00084},{"s":"C","t":820,"f":0.00082},{"s":"C","t":830,"f":0.00086},{"s":"C","t":840,"f":0.00088},{"s":"C","t":850,"f":0.00082},{"s":"C","t":860,"f":0.00090},{"s":"C","t":870,"f":0.00080},{"s":"C","t":880,"f":0.00092},{"s":"C","t":890,"f":0.00106},{"s":"C","t":895,"f":0.00118},{"s":"C","t":900,"f":0.00126},{"s":"C","t":905,"f":0.00112},{"s":"C","t":910,"f":0.00106},{"s":"C","t":920,"f":0.00100},{"s":"C","t":930,"f":0.00094},{"s":"C","t":940,"f":0.00084},{"s":"C","t":950,"f":0.00076},{"s":"C","t":960,"f":0.00064},{"s":"C","t":970,"f":0.00054},{"s":"C","t":980,"f":0.00046},{"s":"C","t":990,"f":0.00040},{"s":"C","t":1000,"f":0.00032},{"s":"C","t":1010,"f":0.00024},{"s":"C","t":1020,"f":0.00014},{"s":"C","t":1030,"f":0.00004},{"s":"C","t":1040,"f":-0.00006},{"s":"C","t":1050,"f":-0.00020},{"s":"C","t":1060,"f":-0.00032},{"s":"C","t":1070,"f":-0.00046},{"s":"C","t":1080,"f":-0.00060},{"s":"C","t":1090,"f":-0.00070},{"s":"C","t":1100,"f":-0.00078},{"s":"C","t":1110,"f":-0.00086},{"s":"C","t":1120,"f":-0.00078},{"s":"C","t":1130,"f":-0.00070},{"s":"C","t":1140,"f":-0.00068},{"s":"C","t":1150,"f":-0.00066},{"s":"C","t":1160,"f":-0.00064},{"s":"C","t":1170,"f":-0.00068},{"s":"C","t":1180,"f":-0.00062},{"s":"C","t":1190,"f":-0.00054},{"s":"C","t":1200,"f":-0.00046},{"s":"C","t":1210,"f":-0.00042},{"s":"C","t":1220,"f":-0.00034},{"s":"C","t":1230,"f":-0.00028},{"s":"C","t":1238,"f":0.0},{"s":"C","t":1240,"f":-0.00030},{"s":"C","t":1250,"f":-0.00026},{"s":"C","t":1260,"f":-0.00028},{"s":"C","t":1270,"f":-0.00030},{"s":"C","t":1280,"f":-0.00026},{"s":"C","t":1290,"f":-0.00024},{"s":"C","t":1300,"f":-0.00020},{"s":"C","t":1310,"f":-0.00016},{"s":"C","t":1320,"f":-0.00014},{"s":"C","t":1330,"f":-0.00018},{"s":"C","t":1340,"f":-0.00012},{"s":"C","t":1350,"f":-0.00008},{"s":"C","t":1360,"f":-0.00012},{"s":"C","t":1370,"f":-0.00010},{"s":"C","t":1380,"f":-0.00012},{"s":"C","t":1390,"f":-0.00014},{"s":"C","t":1400,"f":-0.00008},{"s":"C","t":1410,"f":-0.00012},{"s":"C","t":1420,"f":-0.00006},{"s":"C","t":1430,"f":-0.00002},{"s":"C","t":1440,"f":0.00008},{"s":"C","t":1450,"f":0.00014},{"s":"C","t":1460,"f":0.00018},{"s":"C","t":1470,"f":0.00020},{"s":"C","t":1480,"f":0.00016},{"s":"C","t":1490,"f":0.00020},{"s":"C","t":1500,"f":0.00016},{"s":"C","t":1510,"f":0.00012},{"s":"C","t":1520,"f":0.00004},{"s":"C","t":1530,"f":0.0},{"s":"C","t":1540,"f":-0.00006},{"s":"C","t":1550,"f":-0.00010},{"s":"C","t":1560,"f":-0.00016},{"s":"C","t":1570,"f":-0.00012},{"s":"C","t":1580,"f":-0.00018},{"s":"C","t":1590,"f":-0.00014},{"s":"C","t":1600,"f":-0.00010},{"s":"C","t":1610,"f":-0.00002},{"s":"C","t":1620,"f":0.00004},{"s":"C","t":1630,"f":0.00010},{"s":"C","t":1640,"f":0.00016},{"s":"C","t":1650,"f":0.00020},{"s":"C","t":1660,"f":0.00026},{"s":"C","t":1670,"f":0.00030},{"s":"C","t":1680,"f":0.00028},{"s":"C","t":1690,"f":0.00034},{"s":"C","t":1700,"f":0.00032},{"s":"C","t":1710,"f":0.00038},{"s":"C","t":1720,"f":0.00044},{"s":"C","t":1728,"f":0.00040},
          {"s":"C","t":345,"f":-0.00005},{"s":"C","t":355,"f":-0.00009},{"s":"C","t":365,"f":-0.00015},{"s":"C","t":375,"f":-0.00022},{"s":"C","t":385,"f":-0.00032},{"s":"C","t":395,"f":-0.00043},{"s":"C","t":435,"f":-0.00068},{"s":"C","t":445,"f":-0.00062},{"s":"C","t":455,"f":-0.00053},{"s":"C","t":465,"f":-0.00045},{"s":"C","t":475,"f":-0.00038},{"s":"C","t":485,"f":-0.00045},{"s":"C","t":495,"f":-0.00062},{"s":"C","t":575,"f":-0.00062},{"s":"C","t":585,"f":-0.00052},{"s":"C","t":595,"f":-0.00038},{"s":"C","t":605,"f":-0.00023},{"s":"C","t":615,"f":-0.00010},{"s":"C","t":625,"f":0.00008},{"s":"C","t":665,"f":0.00009},{"s":"C","t":675,"f":0.00010},{"s":"C","t":685,"f":0.00018},{"s":"C","t":695,"f":0.00022},{"s":"C","t":705,"f":0.00015},{"s":"C","t":725,"f":0.00020},{"s":"C","t":735,"f":0.00034},{"s":"C","t":745,"f":0.00042},{"s":"C","t":755,"f":0.00050},{"s":"C","t":765,"f":0.00057},{"s":"C","t":775,"f":0.00065},{"s":"C","t":785,"f":0.00071},{"s":"C","t":795,"f":0.00077},{"s":"C","t":915,"f":0.00102},{"s":"C","t":925,"f":0.00097},{"s":"C","t":935,"f":0.00088},{"s":"C","t":945,"f":0.00080},{"s":"C","t":955,"f":0.00070},{"s":"C","t":965,"f":0.00059},{"s":"C","t":975,"f":0.00050},{"s":"C","t":985,"f":0.00043},{"s":"C","t":995,"f":0.00036},{"s":"C","t":1005,"f":0.00028},{"s":"C","t":1015,"f":0.00019},{"s":"C","t":1025,"f":0.00009},{"s":"C","t":1035,"f":-0.00001},{"s":"C","t":1045,"f":-0.00013},{"s":"C","t":1055,"f":-0.00026},{"s":"C","t":1065,"f":-0.00039},{"s":"C","t":1075,"f":-0.00053},{"s":"C","t":1085,"f":-0.00065},{"s":"C","t":1095,"f":-0.00074},{"s":"C","t":1105,"f":-0.00082},{"s":"C","t":1115,"f":-0.00082},{"s":"C","t":1125,"f":-0.00074},{"s":"C","t":1185,"f":-0.00058},{"s":"C","t":1195,"f":-0.00050},{"s":"C","t":1205,"f":-0.00044},{"s":"C","t":1215,"f":-0.00038},{"s":"C","t":1225,"f":-0.00031},{"s":"C","t":1435,"f":0.00003},{"s":"C","t":1445,"f":0.00011},
          {"s":"C","t":105,"f":-0.00002},{"s":"C","t":115,"f":-0.00009},{"s":"C","t":125,"f":0.0},{"s":"C","t":135,"f":-0.00008},{"s":"C","t":145,"f":0.00001},{"s":"C","t":155,"f":-0.00006},{"s":"C","t":165,"f":0.00003},{"s":"C","t":175,"f":-0.00005},{"s":"C","t":195,"f":-0.00003},{"s":"C","t":205,"f":-0.00010},{"s":"C","t":215,"f":-0.00001},{"s":"C","t":225,"f":-0.00006},{"s":"C","t":235,"f":0.00007},{"s":"C","t":245,"f":0.00001},{"s":"C","t":255,"f":0.00011},{"s":"C","t":265,"f":0.00005},{"s":"C","t":275,"f":0.00013},{"s":"C","t":285,"f":0.00006},{"s":"C","t":295,"f":0.00013},{"s":"C","t":305,"f":0.00001},{"s":"C","t":315,"f":0.00008},{"s":"C","t":325,"f":-0.00002},{"s":"C","t":335,"f":0.00003},{"s":"C","t":505,"f":-0.00072},{"s":"C","t":515,"f":-0.00068},{"s":"C","t":525,"f":-0.00079},{"s":"C","t":535,"f":-0.00070},{"s":"C","t":545,"f":-0.00078},{"s":"C","t":555,"f":-0.00071},{"s":"C","t":565,"f":-0.00074},{"s":"C","t":805,"f":0.00086},{"s":"C","t":815,"f":0.00079},{"s":"C","t":825,"f":0.00088},{"s":"C","t":835,"f":0.00083},{"s":"C","t":845,"f":0.00089},{"s":"C","t":855,"f":0.00082},{"s":"C","t":865,"f":0.00090},{"s":"C","t":875,"f":0.00082},{"s":"C","t":885,"f":0.00103},{"s":"C","t":1135,"f":-0.00065},{"s":"C","t":1145,"f":-0.00071},{"s":"C","t":1155,"f":-0.00061},{"s":"C","t":1165,"f":-0.00070},{"s":"C","t":1175,"f":-0.00061},{"s":"C","t":1235,"f":-0.00033},{"s":"C","t":1245,"f":-0.00024},{"s":"C","t":1255,"f":-0.00031},{"s":"C","t":1265,"f":-0.00025},{"s":"C","t":1275,"f":-0.00032},{"s":"C","t":1285,"f":-0.00021},{"s":"C","t":1295,"f":-0.00026},{"s":"C","t":1305,"f":-0.00014},{"s":"C","t":1315,"f":-0.00019},{"s":"C","t":1325,"f":-0.00012},{"s":"C","t":1335,"f":-0.00019},{"s":"C","t":1345,"f":-0.00006},{"s":"C","t":1355,"f":-0.00014},{"s":"C","t":1365,"f":-0.00007},{"s":"C","t":1375,"f":-0.00015},{"s":"C","t":1385,"f":-0.00009},{"s":"C","t":1395,"f":-0.00015},{"s":"C","t":1405,"f":-0.00006},{"s":"C","t":1415,"f":-0.00013},{"s":"C","t":1425,"f":0.0},{"s":"C","t":1455,"f":0.00020},{"s":"C","t":1465,"f":0.00015},{"s":"C","t":1475,"f":0.00022},{"s":"C","t":1485,"f":0.00014},{"s":"C","t":1495,"f":0.00022},{"s":"C","t":1505,"f":0.00010},{"s":"C","t":1515,"f":0.00012},{"s":"C","t":1525,"f":-0.00002},{"s":"C","t":1535,"f":0.00001},{"s":"C","t":1545,"f":-0.00012},{"s":"C","t":1555,"f":-0.00009},{"s":"C","t":1565,"f":-0.00018},{"s":"C","t":1575,"f":-0.00011},{"s":"C","t":1585,"f":-0.00020},{"s":"C","t":1595,"f":-0.00008},{"s":"C","t":1605,"f":-0.00010},{"s":"C","t":1615,"f":0.00005},{"s":"C","t":1625,"f":0.00003},{"s":"C","t":1635,"f":0.00017},{"s":"C","t":1645,"f":0.00014},{"s":"C","t":1655,"f":0.00027},{"s":"C","t":1665,"f":0.00024},{"s":"C","t":1675,"f":0.00033},{"s":"C","t":1685,"f":0.00027},{"s":"C","t":1695,"f":0.00037},{"s":"C","t":1705,"f":0.00031},{"s":"C","t":1715,"f":0.00045},{"s":"C","t":1724,"f":0.00038}
        ]
      },
      "mark": {"type": "circle", "size": 62, "opacity": 1},
      "encoding": {
        "x": {
          "field": "t",
          "type": "quantitative",
          "title": "Time (s)",
          "scale": {"domain": [-85, 1810], "nice": false, "zero": false},
          "axis": {"values": [0, 250, 500, 750, 1000, 1250, 1500, 1750], "format": "d", "labelPadding": 10, "titlePadding": 13}
        },
        "y": {
          "field": "f",
          "type": "quantitative",
          "title": "VERITAS Optical Flux (A.U.)",
          "scale": {"domain": [-0.00367, 0.001515], "nice": false, "zero": false},
          "axis": {"values": [-0.003, -0.002, -0.001, 0, 0.001], "format": ".3f", "labelPadding": 16, "titlePadding": 16}
        },
        "color": {
          "field": "s",
          "type": "nominal",
          "scale": {"domain": ["A", "B", "C"], "range": ["#66c2a5", "#fc8d62", "#8da0cb"]},
          "legend": null
        }
      }
    },
    {
      "data": {"values": [{}]},
      "mark": {
        "type": "text",
        "text": "preliminary",
        "font": "Liberation Serif",
        "fontSize": 121,
        "color": "#a50d0d",
        "align": "center",
        "baseline": "alphabetic"
      },
      "encoding": {
        "x": {"datum": 871, "type": "quantitative"},
        "y": {"datum": -0.00285, "type": "quantitative"}
      }
    }
  ]
}
